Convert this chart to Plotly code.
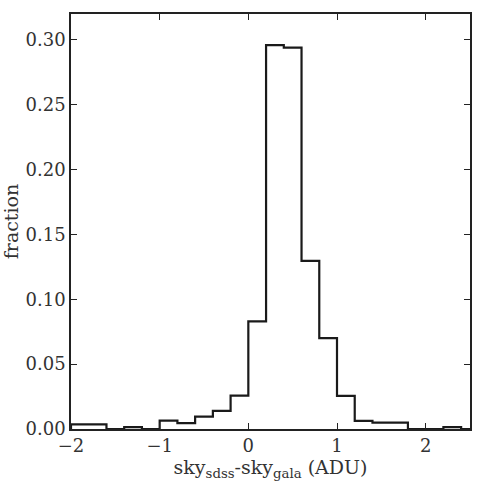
import plotly.graph_objects as go

# Histogram bin edges (width 0.2) and fractions
bin_edges = [-2.0, -1.8, -1.6, -1.4, -1.2, -1.0, -0.8, -0.6, -0.4, -0.2,
             0.0, 0.2, 0.4, 0.6, 0.8, 1.0, 1.2, 1.4, 1.6, 1.8, 2.0, 2.2, 2.4, 2.6]
fractions = [0.0036, 0.0036, 0.0, 0.0015, 0.0, 0.0064, 0.0046, 0.0095, 0.0139, 0.0257,
             0.083, 0.296, 0.294, 0.1296, 0.070, 0.0255, 0.0062, 0.0049, 0.0049, 0.0,
             0.0, 0.0015, 0.0]

x_ticks = [-2, -1, 0, 1, 2]
y_ticks = [0.00, 0.05, 0.10, 0.15, 0.20, 0.25, 0.30]

# step outline (matplotlib histtype='step')
xs = [bin_edges[0]] + bin_edges
ys = [0.0] + fractions + [0.0]

fig = go.Figure()
fig.add_trace(go.Scatter(x=xs, y=ys, mode="lines", line_shape="hv",
                         line=dict(color="#1a1a1a", width=2.2),
                         showlegend=False, hoverinfo="skip"))

font_family = "DejaVu Serif"
axis_common = dict(showgrid=False, zeroline=False, showline=True, linecolor="#222222",
                   linewidth=1.5, mirror="ticks", ticks="inside", ticklen=6,
                   tickwidth=1, tickcolor="#222222",
                   tickfont=dict(family=font_family, size=18, color="#333333"))

fig.update_layout(
    width=477, height=487,
    margin=dict(l=71, r=5, t=14, b=58),
    paper_bgcolor="white", plot_bgcolor="white",
    xaxis=dict(range=[-2, 2.5], tickvals=x_ticks,
               title=dict(text="sky<sub>sdss</sub>-sky<sub>gala</sub> (ADU)",
                          font=dict(family=font_family, size=19, color="#333333"),
                          standoff=4),
               **axis_common),
    yaxis=dict(range=[0, 0.32], tickvals=y_ticks, tickformat=".2f",
               title=dict(text="fraction",
                          font=dict(family=font_family, size=19, color="#333333"),
                          standoff=4),
               **axis_common),
)

fig.write_html("out.html")
